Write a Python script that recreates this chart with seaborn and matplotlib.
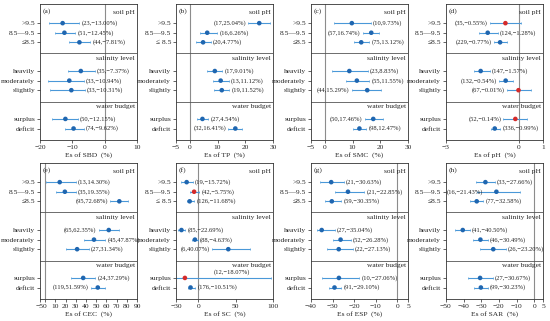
import numpy as np
import pandas as pd
import matplotlib
matplotlib.use("Agg")
import matplotlib.pyplot as plt
import seaborn as sns

rows = ['>9.5', '8.5\u20149.5', '\u22648.5', 'heavily', 'moderately', 'slightly', 'surplus', 'deficit']
headings = ['soil pH', 'salinity level', 'water budget']

# SBD
sbd_n = [23, 51, 44, 35, 33, 33, 50, 74]
sbd_mean = [-13.00, -12.45, -7.81, -7.37, -10.94, -10.31, -12.15, -9.62]
sbd_lo = [-17.1, -15.3, -11.0, -11.2, -17.4, -17.0, -16.3, -12.2]
sbd_hi = [-7.8, -9.1, -4.4, -3.1, -6.5, -6.2, -8.3, -6.5]
# TP
tp_n = [17, 16, 20, 17, 13, 19, 27, 32]
tp_mean = [25.04, 6.26, 4.77, 9.01, 11.12, 11.52, 4.54, 16.41]
tp_lo = [21.0, 3.5, 2.3, 6.1, 8.3, 8.6, 2.6, 13.9]
tp_hi = [28.9, 9.9, 7.6, 11.7, 14.0, 14.3, 6.7, 18.9]
# SMC
smc_n = [10, 57, 75, 23, 55, 44, 50, 98]
smc_mean = [9.73, 16.74, 13.12, 8.83, 11.55, 15.29, 17.46, 12.47]
smc_lo = [3.3, 13.6, 10.6, 2.5, 7.7, 9.7, 14.4, 10.3]
smc_hi = [16.7, 19.6, 16.1, 15.6, 16.1, 20.2, 20.8, 15.0]
# pH
ph_n = [35, 124, 229, 147, 132, 67, 52, 336]
ph_mean = [-0.55, -1.28, -0.77, -1.57, -0.54, -0.01, -0.14, -0.99]
ph_lo = [-1.19, -1.63, -1.03, -1.85, -0.83, -0.49, -0.63, -1.16]
ph_hi = [0.11, -0.85, -0.49, -1.19, -0.23, 0.51, 0.33, -0.76]
# CEC
cec_n = [13, 35, 95, 65, 45, 27, 24, 119]
cec_mean = [14.30, 19.35, 72.68, 62.35, 47.87, 31.34, 37.29, 51.59]
cec_lo = [1.3, 10.9, 63.7, 52.5, 38.0, 20.5, 25.3, 44.5]
cec_hi = [30.0, 30.0, 81.3, 72.6, 58.9, 42.9, 49.3, 58.9]
# SC
sc_n = [19, 42, 126, 85, 88, 6, 12, 176]
sc_mean = [-15.72, -5.75, -11.68, -22.69, -4.63, 40.07, -18.07, -10.51]
sc_lo = [-23.6, -11.4, -15.9, -26.8, -8.8, 18.6, -31.0, -14.5]
sc_hi = [-7.7, 1.4, -5.5, -17.7, -0.5, 69.5, 97.0, -4.1]
# ESP
esp_n = [21, 21, 59, 27, 52, 22, 10, 91]
esp_mean = [-30.63, -22.85, -30.35, -35.04, -26.28, -27.13, -27.06, -29.10]
esp_lo = [-35.8, -28.9, -33.5, -37.3, -29.7, -32.4, -35.0, -31.5]
esp_hi = [-24.8, -15.3, -25.9, -29.0, -21.4, -20.6, -17.6, -25.9]
# SAR
sar_n = [33, 16, 77, 41, 46, 26, 27, 99]
sar_mean = [-27.66, -21.43, -32.58, -40.50, -30.49, -23.20, -30.67, -30.23]
sar_lo = [-33.0, -32.6, -36.4, -44.9, -34.6, -30.5, -37.4, -34.0]
sar_hi = [-22.4, -8.3, -28.8, -36.4, -26.2, -15.9, -23.4, -26.2]

panels = [
    ('(a)', 'SBD', sbd_n, sbd_mean, sbd_lo, sbd_hi, (-20, 10), [-20, -10, 0, 10], 'rrrrrrrr'),
    ('(b)', 'TP', tp_n, tp_mean, tp_lo, tp_hi, (-5, 30), [-5, 0, 10, 20, 30], 'lrrrrrrl'),
    ('(c)', 'SMC', smc_n, smc_mean, smc_lo, smc_hi, (-5, 30), [-5, 0, 10, 20, 30], 'rlrrrllr'),
    ('(d)', 'pH', ph_n, ph_mean, ph_lo, ph_hi, (-3, 1), [-3, 0, 1], 'lrlrlllr'),
    ('(e)', 'CEC', cec_n, cec_mean, cec_lo, cec_hi, (-5, 90), [-5, 0, 10, 20, 30, 40, 50, 60, 70, 80, 90], 'rrllrrrl'),
    ('(f)', 'SC', sc_n, sc_mean, sc_lo, sc_hi, (-30, 100), [-30, 0, 50, 100], 'rrrrrltr'),
    ('(g)', 'ESP', esp_n, esp_mean, esp_lo, esp_hi, (-40, 5), [-40, -30, -20, -10, 0, 5], 'rrrrrrrr'),
    ('(h)', 'SAR', sar_n, sar_mean, sar_lo, sar_hi, (-50, 5), [-50, -40, -30, -20, -10, 0, 5], 'rErrrrrr'),
]

sns.set_theme(style="ticks")
plt.rcParams['font.family'] = ['Liberation Serif', 'DejaVu Serif']
plt.rcParams['axes.unicode_minus'] = True

ypos = [2, 3, 4, 7, 8, 9, 12, 13]
seps = [5.1, 10.2]
head_y = [0.85, 5.65, 10.75]
line_c = '#4a98d8'
dot_c = '#1f66b0'
red_c = '#d42a2a'
fs = 5.4
fs_ann = 4.7

fig = plt.figure(figsize=(5.5, 3.21), dpi=100)
lefts = [40, 176, 311, 446]
for i, (tag, var, n, mean, lo, hi, xlim, xticks, sides) in enumerate(panels):
    r, c = divmod(i, 4)
    top = 4 if r == 0 else 163
    ax = fig.add_axes([lefts[c] / 550, 1 - (top + 136) / 321, 97 / 550, 136 / 321])
    df = pd.DataFrame({'row': rows, 'y': ypos, 'n': n, 'mean': mean, 'lo': lo, 'hi': hi})
    df['sig'] = np.where((df['lo'] < 0) & (df['hi'] > 0), 'ns', 'sig')
    ax.axvline(0, color='#8c8c8c', lw=0.8, zorder=1)
    for s in seps:
        ax.axhline(s, color='#555555', lw=0.6, zorder=1)
    ax.errorbar(df['mean'], df['y'], xerr=[df['mean'] - df['lo'], df['hi'] - df['mean']],
                fmt='none', ecolor=line_c, elinewidth=0.8, capsize=0.8, capthick=0.5, zorder=2)
    sns.scatterplot(data=df, x='mean', y='y', hue='sig', palette={'sig': dot_c, 'ns': red_c},
                    s=11, edgecolor='none', legend=False, ax=ax, zorder=3)
    for k, row in df.iterrows():
        txt = f"({row['n']},{row['mean']:.2f}%)".replace('-', '\u2212')
        sd = sides[k]
        if sd == 'r':
            ax.annotate(txt, (row['hi'], row['y']), xytext=(1.5, 0), textcoords='offset points',
                        ha='left', va='center', fontsize=fs_ann)
        elif sd == 'l':
            ax.annotate(txt, (row['lo'], row['y']), xytext=(-1.5, 0), textcoords='offset points',
                        ha='right', va='center', fontsize=fs_ann)
        elif sd == 'E':
            ax.annotate(txt, (xlim[0], row['y']), xytext=(0.5, 0), textcoords='offset points',
                        ha='left', va='center', fontsize=fs_ann)
        else:
            ax.annotate(txt, (row['mean'], row['y']), xytext=(21, 4), textcoords='offset points',
                        ha='left', va='center', fontsize=fs_ann)
    for h, hy in zip(headings, head_y):
        ax.text(0.98, hy, h, transform=ax.get_yaxis_transform(), ha='right', va='center', fontsize=fs)
    ax.text(0.03, 0.75, tag, transform=ax.get_yaxis_transform(), ha='left', va='center', fontsize=fs)
    ax.set_xlim(xlim)
    ax.set_xticks(xticks)
    ax.set_ylim(14.2, 0)
    ax.set_yticks(ypos)
    labels = list(rows)
    if tag in ('(b)', '(f)'):
        labels[2] = '\u2264 8.5'
    ax.set_yticklabels(labels)
    ax.set_xlabel(f'Es of {var}  (%)', fontsize=fs, labelpad=1.2)
    ax.set_ylabel('')
    ax.tick_params(labelsize=fs, length=2, width=0.5, pad=1.5)
    for sp in ax.spines.values():
        sp.set_linewidth(0.6)
        sp.set_color('#333333')

fig.savefig('out.png', dpi=100)
